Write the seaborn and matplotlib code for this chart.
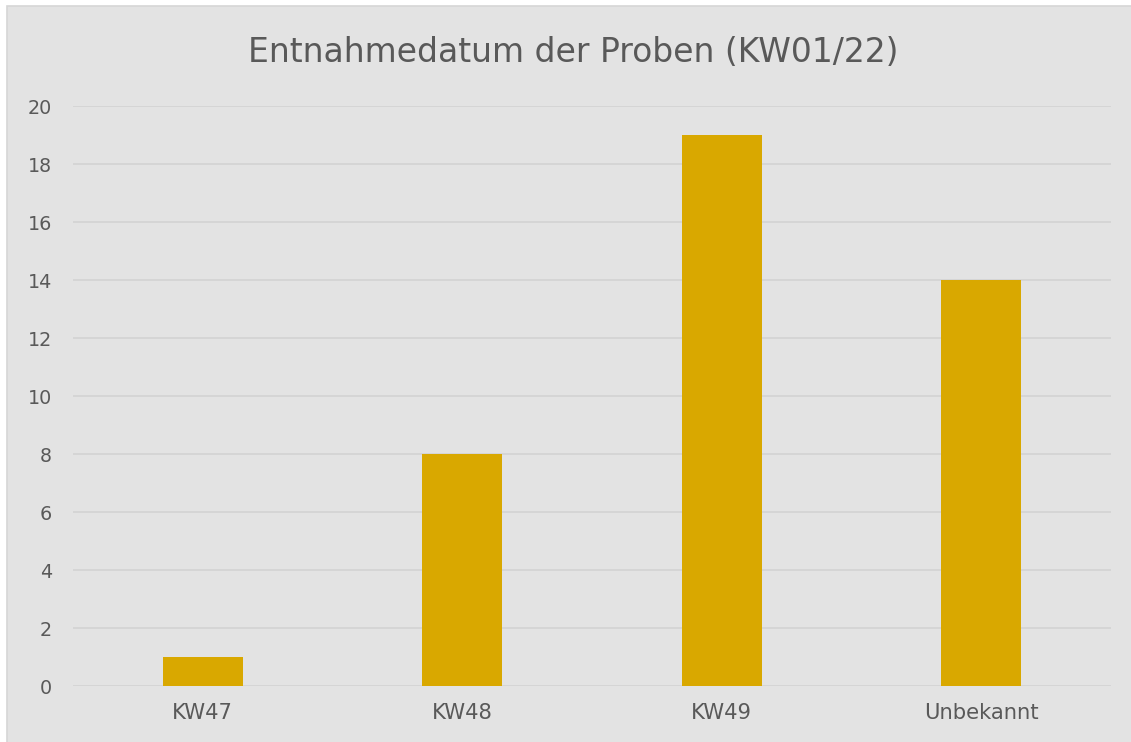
import matplotlib
matplotlib.use("Agg")
import matplotlib.pyplot as plt
import seaborn as sns
import pandas as pd
from matplotlib.patches import Rectangle

categories = ["KW47", "KW48", "KW49", "Unbekannt"]
values = [1, 8, 19, 14]
yticks = [0, 2, 4, 6, 8, 10, 12, 14, 16, 18, 20]
title = "Entnahmedatum der Proben (KW01/22)"

BG = "#e3e3e3"
GRID = "#d4d4d4"
BAR = "#d9a800"
TXT = "#595959"

sns.set_theme(style="white")
plt.rcParams["font.family"] = ["DejaVu Sans"]

W, H = 1131, 742
fig = plt.figure(figsize=(W / 100, H / 100), dpi=100)
fig.patch.set_facecolor("white")
fig.patches.append(Rectangle((7 / W, -0.05), 1.1, 1.05 - 6 / H, transform=fig.transFigure,
                             facecolor=BG, edgecolor="#d6d6d6", linewidth=1.2, zorder=-10))

ax = fig.add_axes([73 / W, 1 - 686 / H, (1111 - 73) / W, (686 - 106) / H])
ax.set_facecolor(BG)
ax.patch.set_alpha(0)

df = pd.DataFrame({"cat": categories, "val": values})
sns.barplot(data=df, x="cat", y="val", color=BAR, saturation=1, width=0.31, ax=ax,
            zorder=3, linewidth=0, edgecolor="none")

ax.set_ylim(0, 20)
ax.set_yticks(yticks)
ax.set_yticklabels([str(t) for t in yticks])
ax.yaxis.grid(True, color=GRID, linewidth=1.3, zorder=0)
ax.set_axisbelow(True)
for s in ax.spines.values():
    s.set_visible(False)
ax.tick_params(axis="both", length=0, labelcolor=TXT)
ax.tick_params(axis="y", pad=15, labelsize=13.8)
ax.tick_params(axis="x", pad=12, labelsize=15.2)
ax.set_xlabel("")
ax.set_ylabel("")

fig.text(0.507, 1 - 52 / H, title, ha="center", va="center", fontsize=23.8, color=TXT)

fig.savefig("out.png", dpi=100)
